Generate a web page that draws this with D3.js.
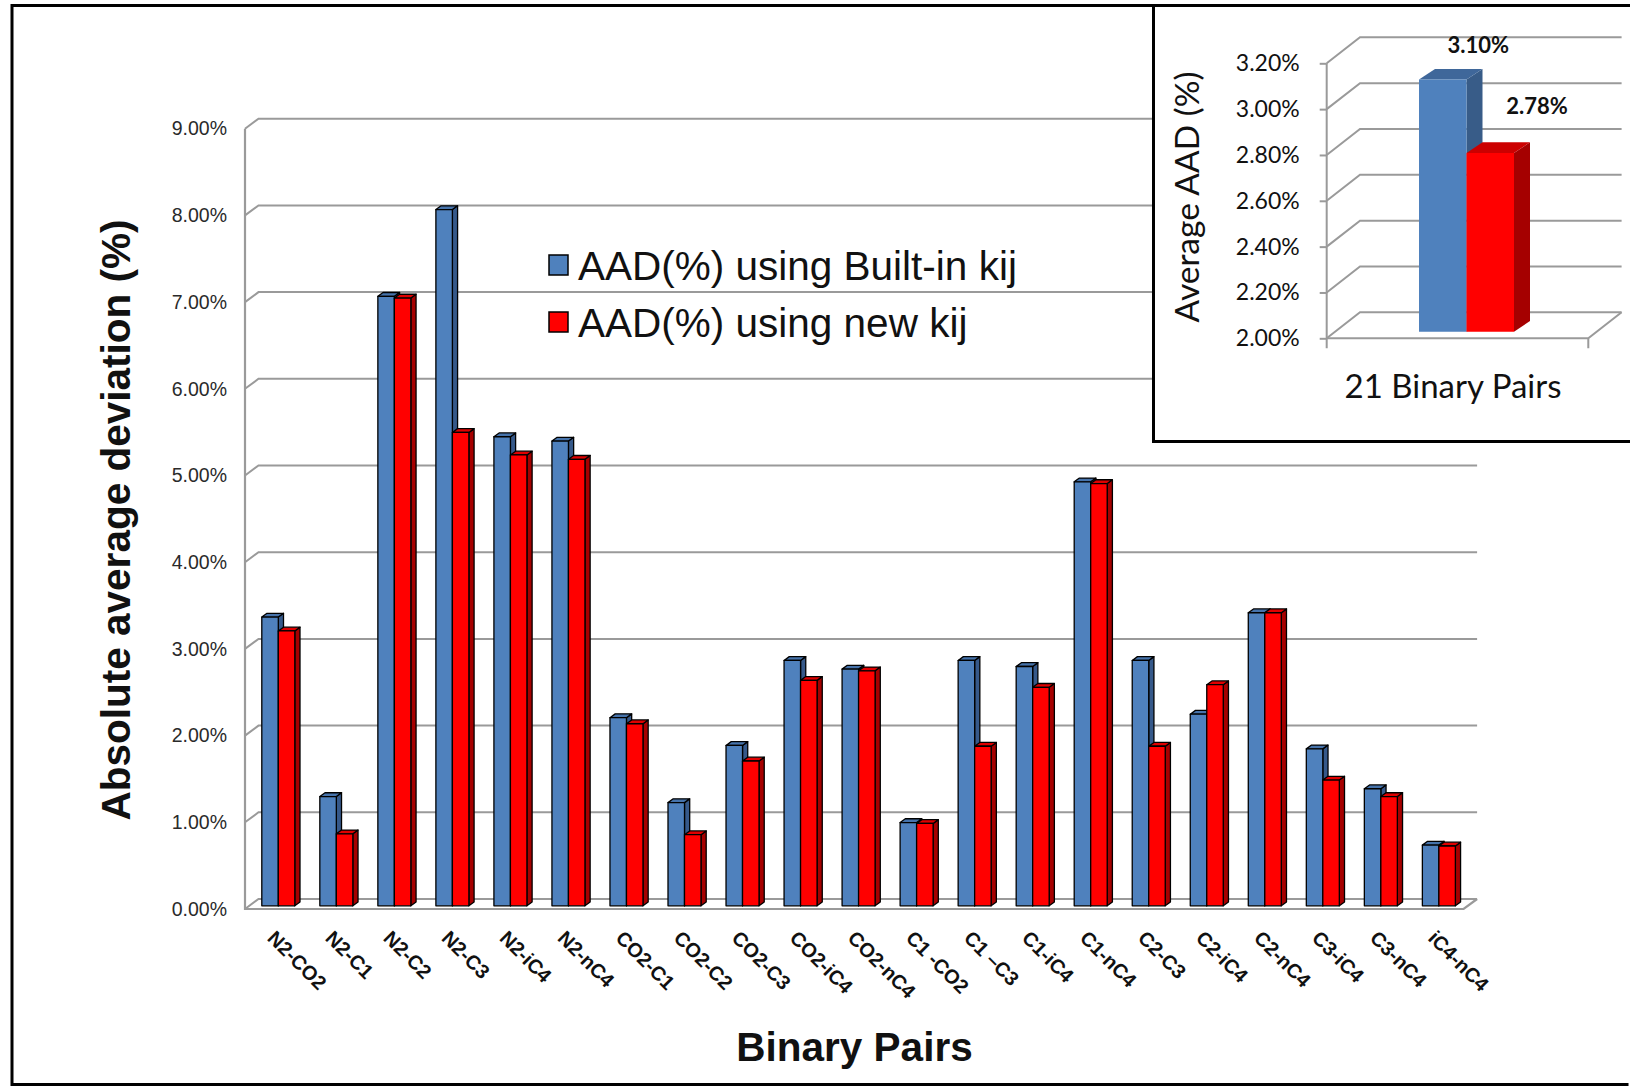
<!DOCTYPE html>
<html>
<head>
<meta charset="utf-8">
<script src="https://cdn.jsdelivr.net/npm/d3@7"></script>
<style>
  html, body { margin: 0; padding: 0; background: #fff; }
  svg { display: block; }
</style>
</head>
<body>
<svg id="chart" width="1630" height="1088"></svg>
<script>
// ---- data ----
const categories = ["N2-CO2", "N2-C1", "N2-C2", "N2-C3", "N2-iC4", "N2-nC4",
  "CO2-C1", "CO2-C2", "CO2-C3", "CO2-iC4", "CO2-nC4", "C1 -CO2", "C1 \u2013C3",
  "C1-iC4", "C1-nC4", "C2-C3", "C2-iC4", "C2-nC4", "C3-iC4", "C3-nC4", "iC4-nC4"];
const seriesNames = ["AAD(%) using Built-in kij", "AAD(%) using new kij"];
const builtInKij = [3.33, 1.26, 7.03, 8.03, 5.41, 5.36, 2.17, 1.19, 1.85, 2.83, 2.73,
  0.96, 2.83, 2.76, 4.89, 2.83, 2.21, 3.38, 1.81, 1.35, 0.70];
const newKij = [3.17, 0.83, 7.01, 5.46, 5.20, 5.15, 2.10, 0.82, 1.67, 2.60, 2.71,
  0.95, 1.84, 2.52, 4.87, 1.84, 2.55, 3.38, 1.45, 1.26, 0.69];
const yTickValues = [0, 1, 2, 3, 4, 5, 6, 7, 8, 9];

const insetCategory = "21 Binary Pairs";
const insetValues = [3.10, 2.78];
const insetTickValues = [2.0, 2.2, 2.4, 2.6, 2.8, 3.0, 3.2];

// ---- styling ----
const faces = [
  { front: "#4F81BD", top: "#4673AB", side: "#36598A" },
  { front: "#FF0000", top: "#E00000", side: "#A60000" }
];
const insetFaces = [
  { front: "#4F81BD", top: "#3F679A", side: "#385C88" },
  { front: "#FF0000", top: "#CC0000", side: "#A50000" }
];
const mainFont = "'Liberation Sans', Arial, Helvetica, sans-serif";
const insetFont = "Lato, 'Open Sans', 'Liberation Sans', sans-serif";
const gridColor = "#9a9a9a";

const svg = d3.select("#chart");
svg.append("rect").attr("width", 1630).attr("height", 1088).attr("fill", "#fff");

const poly = pts => "M" + pts.map(p => p.join(",")).join("L") + "Z";

// ================= main chart =================
const wallDX = 13.5, wallDY = 10;          // depth of back wall
const x = d3.scaleBand().domain(categories).range([245, 1463.6]).padding(0);
const y = d3.scaleLinear().domain([0, 9]).range([909, 128.7]);

const main = svg.append("g");

// back-wall gridlines with the short left-wall stubs
main.append("g").selectAll("path").data(yTickValues).join("path")
  .attr("d", t => `M${x.range()[0]},${y(t)}L${x.range()[0] + wallDX},${y(t) - wallDY}L${x.range()[1] + wallDX},${y(t) - wallDY}`)
  .attr("fill", "none").attr("stroke", gridColor).attr("stroke-width", 2);

// left wall edge and floor front edge
main.append("path")
  .attr("d", `M${x.range()[0]},${y(9)}L${x.range()[0]},${y(0)}L${x.range()[1]},${y(0)}L${x.range()[1] + wallDX},${y(0) - wallDY}`)
  .attr("fill", "none").attr("stroke", gridColor).attr("stroke-width", 2.2);

// y tick labels
const yAxisG = main.append("g").attr("transform", `translate(${x.range()[0]},0)`)
  .call(d3.axisLeft(y).tickValues(yTickValues).tickFormat(d => d.toFixed(2) + "%").tickSize(0).tickPadding(18));
yAxisG.select(".domain").remove();
yAxisG.selectAll("text").attr("font-family", mainFont).attr("font-size", 19.5).attr("fill", "#2a2a2a");

// 3D columns
const barW = 16.5, barOffset = 16.8;
const liftY = -3.2;                         // bars stand slightly behind the floor front edge
const bdx = 5.2, bdy = 3.8;                 // bar depth
const seriesData = [builtInKij, newKij];
const barsG = main.append("g");
categories.forEach((c, i) => {
  seriesData.forEach((vals, s) => {
    const v = vals[i];
    const x0 = x(c) + barOffset + s * barW, x1 = x0 + barW;
    const yb = y(0) + liftY, yt = y(v) + liftY;
    const g = barsG.append("g").attr("stroke", "#000").attr("stroke-width", 1.3).attr("stroke-linejoin", "round");
    g.append("path").attr("d", poly([[x1, yt], [x1 + bdx, yt - bdy], [x1 + bdx, yb - bdy], [x1, yb]])).attr("fill", faces[s].side);
    g.append("path").attr("d", poly([[x0, yt], [x1, yt], [x1 + bdx, yt - bdy], [x0 + bdx, yt - bdy]])).attr("fill", faces[s].top);
    g.append("path").attr("d", poly([[x0, yb], [x0, yt], [x1, yt], [x1, yb]])).attr("fill", faces[s].front);
  });
});

// rotated category labels
main.append("g").selectAll("text").data(categories).join("text")
  .attr("transform", c => `translate(${x(c) + 31.5},929) rotate(45)`)
  .attr("dy", "0.72em")
  .attr("font-family", mainFont).attr("font-size", 20).attr("font-weight", "bold").attr("fill", "#111")
  .text(c => c);

// axis titles
main.append("text").attr("x", 854.5).attr("y", 1061).attr("text-anchor", "middle")
  .attr("font-family", mainFont).attr("font-size", 40.5).attr("font-weight", "bold").attr("fill", "#111")
  .text("Binary Pairs");
main.append("text").attr("transform", "translate(130,520) rotate(-90)").attr("text-anchor", "middle")
  .attr("font-family", mainFont).attr("font-size", 40.5).attr("font-weight", "bold").attr("fill", "#111")
  .text("Absolute average deviation (%)");

// legend
const legend = main.append("g").attr("transform", "translate(549,255)");
seriesNames.forEach((name, s) => {
  const row = legend.append("g").attr("transform", `translate(0,${s * 57})`);
  row.append("rect").attr("width", 19).attr("height", 20).attr("fill", faces[s].front)
    .attr("stroke", "#000").attr("stroke-width", 1.5);
  row.append("text").attr("x", 29).attr("y", 10).attr("dy", "0.36em")
    .attr("font-family", mainFont).attr("font-size", 40.5).attr("fill", "#111").text(name);
});

// outer frame
svg.append("path").attr("d", "M1628.5,5.5H12V1084.5H1628.5")
  .attr("fill", "none").attr("stroke", "#000").attr("stroke-width", 3);

// ================= inset chart =================
const inset = svg.append("g");
inset.append("rect").attr("x", 1153.5).attr("y", 5.5).attr("width", 1630 - 1153.5 + 2).attr("height", 441.5 - 5.5)
  .attr("fill", "#fff").attr("stroke", "#000").attr("stroke-width", 3);

const iy = d3.scaleLinear().domain([2.0, 3.2]).range([338.3, 63.3]);
const ixRange = [1326.7, 1588.3];
const iDX = 33.3, iDY = 26;

inset.append("g").selectAll("path").data(insetTickValues).join("path")
  .attr("d", t => `M${ixRange[0]},${iy(t)}L${ixRange[0] + iDX},${iy(t) - iDY}L${ixRange[1] + iDX},${iy(t) - iDY}`)
  .attr("fill", "none").attr("stroke", gridColor).attr("stroke-width", 2);

inset.append("path")
  .attr("d", `M${ixRange[0]},${iy(3.2)}L${ixRange[0]},${iy(2.0) + 10}M${ixRange[0]},${iy(2.0)}L${ixRange[1]},${iy(2.0)}L${ixRange[1] + iDX},${iy(2.0) - iDY}M${ixRange[1]},${iy(2.0)}L${ixRange[1]},${iy(2.0) + 10}`)
  .attr("fill", "none").attr("stroke", gridColor).attr("stroke-width", 2);

const iAxisG = inset.append("g").attr("transform", `translate(${ixRange[0]},0)`)
  .call(d3.axisLeft(iy).tickValues(insetTickValues).tickFormat(d => d.toFixed(2) + "%").tickSize(7).tickPadding(20));
iAxisG.select(".domain").remove();
iAxisG.selectAll("line").attr("stroke", gridColor).attr("stroke-width", 2);
iAxisG.selectAll("text").attr("font-family", insetFont).attr("font-size", 23).attr("fill", "#111");

// inset columns
const ix = d3.scaleBand().domain(seriesNames).range([1419, 1514]).padding(0);
const iLift = -6.6, ibdx = 16, ibdy = 10.7;
const labelShift = [[35.5, -41], [46.7, -53.6]];
seriesNames.forEach((name, s) => {
  const v = insetValues[s];
  const x0 = ix(name), x1 = x0 + ix.bandwidth();
  const yb = iy(2.0) + iLift, yt = iy(v) + iLift;
  const g = inset.append("g");
  g.append("path").attr("d", poly([[x1, yt], [x1 + ibdx, yt - ibdy], [x1 + ibdx, yb - ibdy], [x1, yb]])).attr("fill", insetFaces[s].side);
  g.append("path").attr("d", poly([[x0, yt], [x1, yt], [x1 + ibdx, yt - ibdy], [x0 + ibdx, yt - ibdy]])).attr("fill", insetFaces[s].top);
  g.append("path").attr("d", poly([[x0, yb], [x0, yt], [x1, yt], [x1, yb]])).attr("fill", insetFaces[s].front);
  inset.append("text")
    .attr("x", (x0 + x1) / 2 + labelShift[s][0]).attr("y", iy(v) + labelShift[s][1]).attr("dy", "0.35em")
    .attr("text-anchor", "middle").attr("font-family", insetFont).attr("font-size", 22).attr("font-weight", "bold")
    .attr("fill", "#111").text(v.toFixed(2) + "%");
});

inset.append("text").attr("x", 1453).attr("y", 386.7).attr("dy", "0.35em")
  .attr("text-anchor", "middle").attr("font-family", insetFont).attr("font-size", 33).attr("fill", "#111")
  .text(insetCategory);
inset.append("text").attr("transform", "translate(1199,197) rotate(-90)").attr("text-anchor", "middle")
  .attr("font-family", insetFont).attr("font-size", 33.5).attr("fill", "#111")
  .text("Average AAD (%)");
</script>
</body>
</html>
